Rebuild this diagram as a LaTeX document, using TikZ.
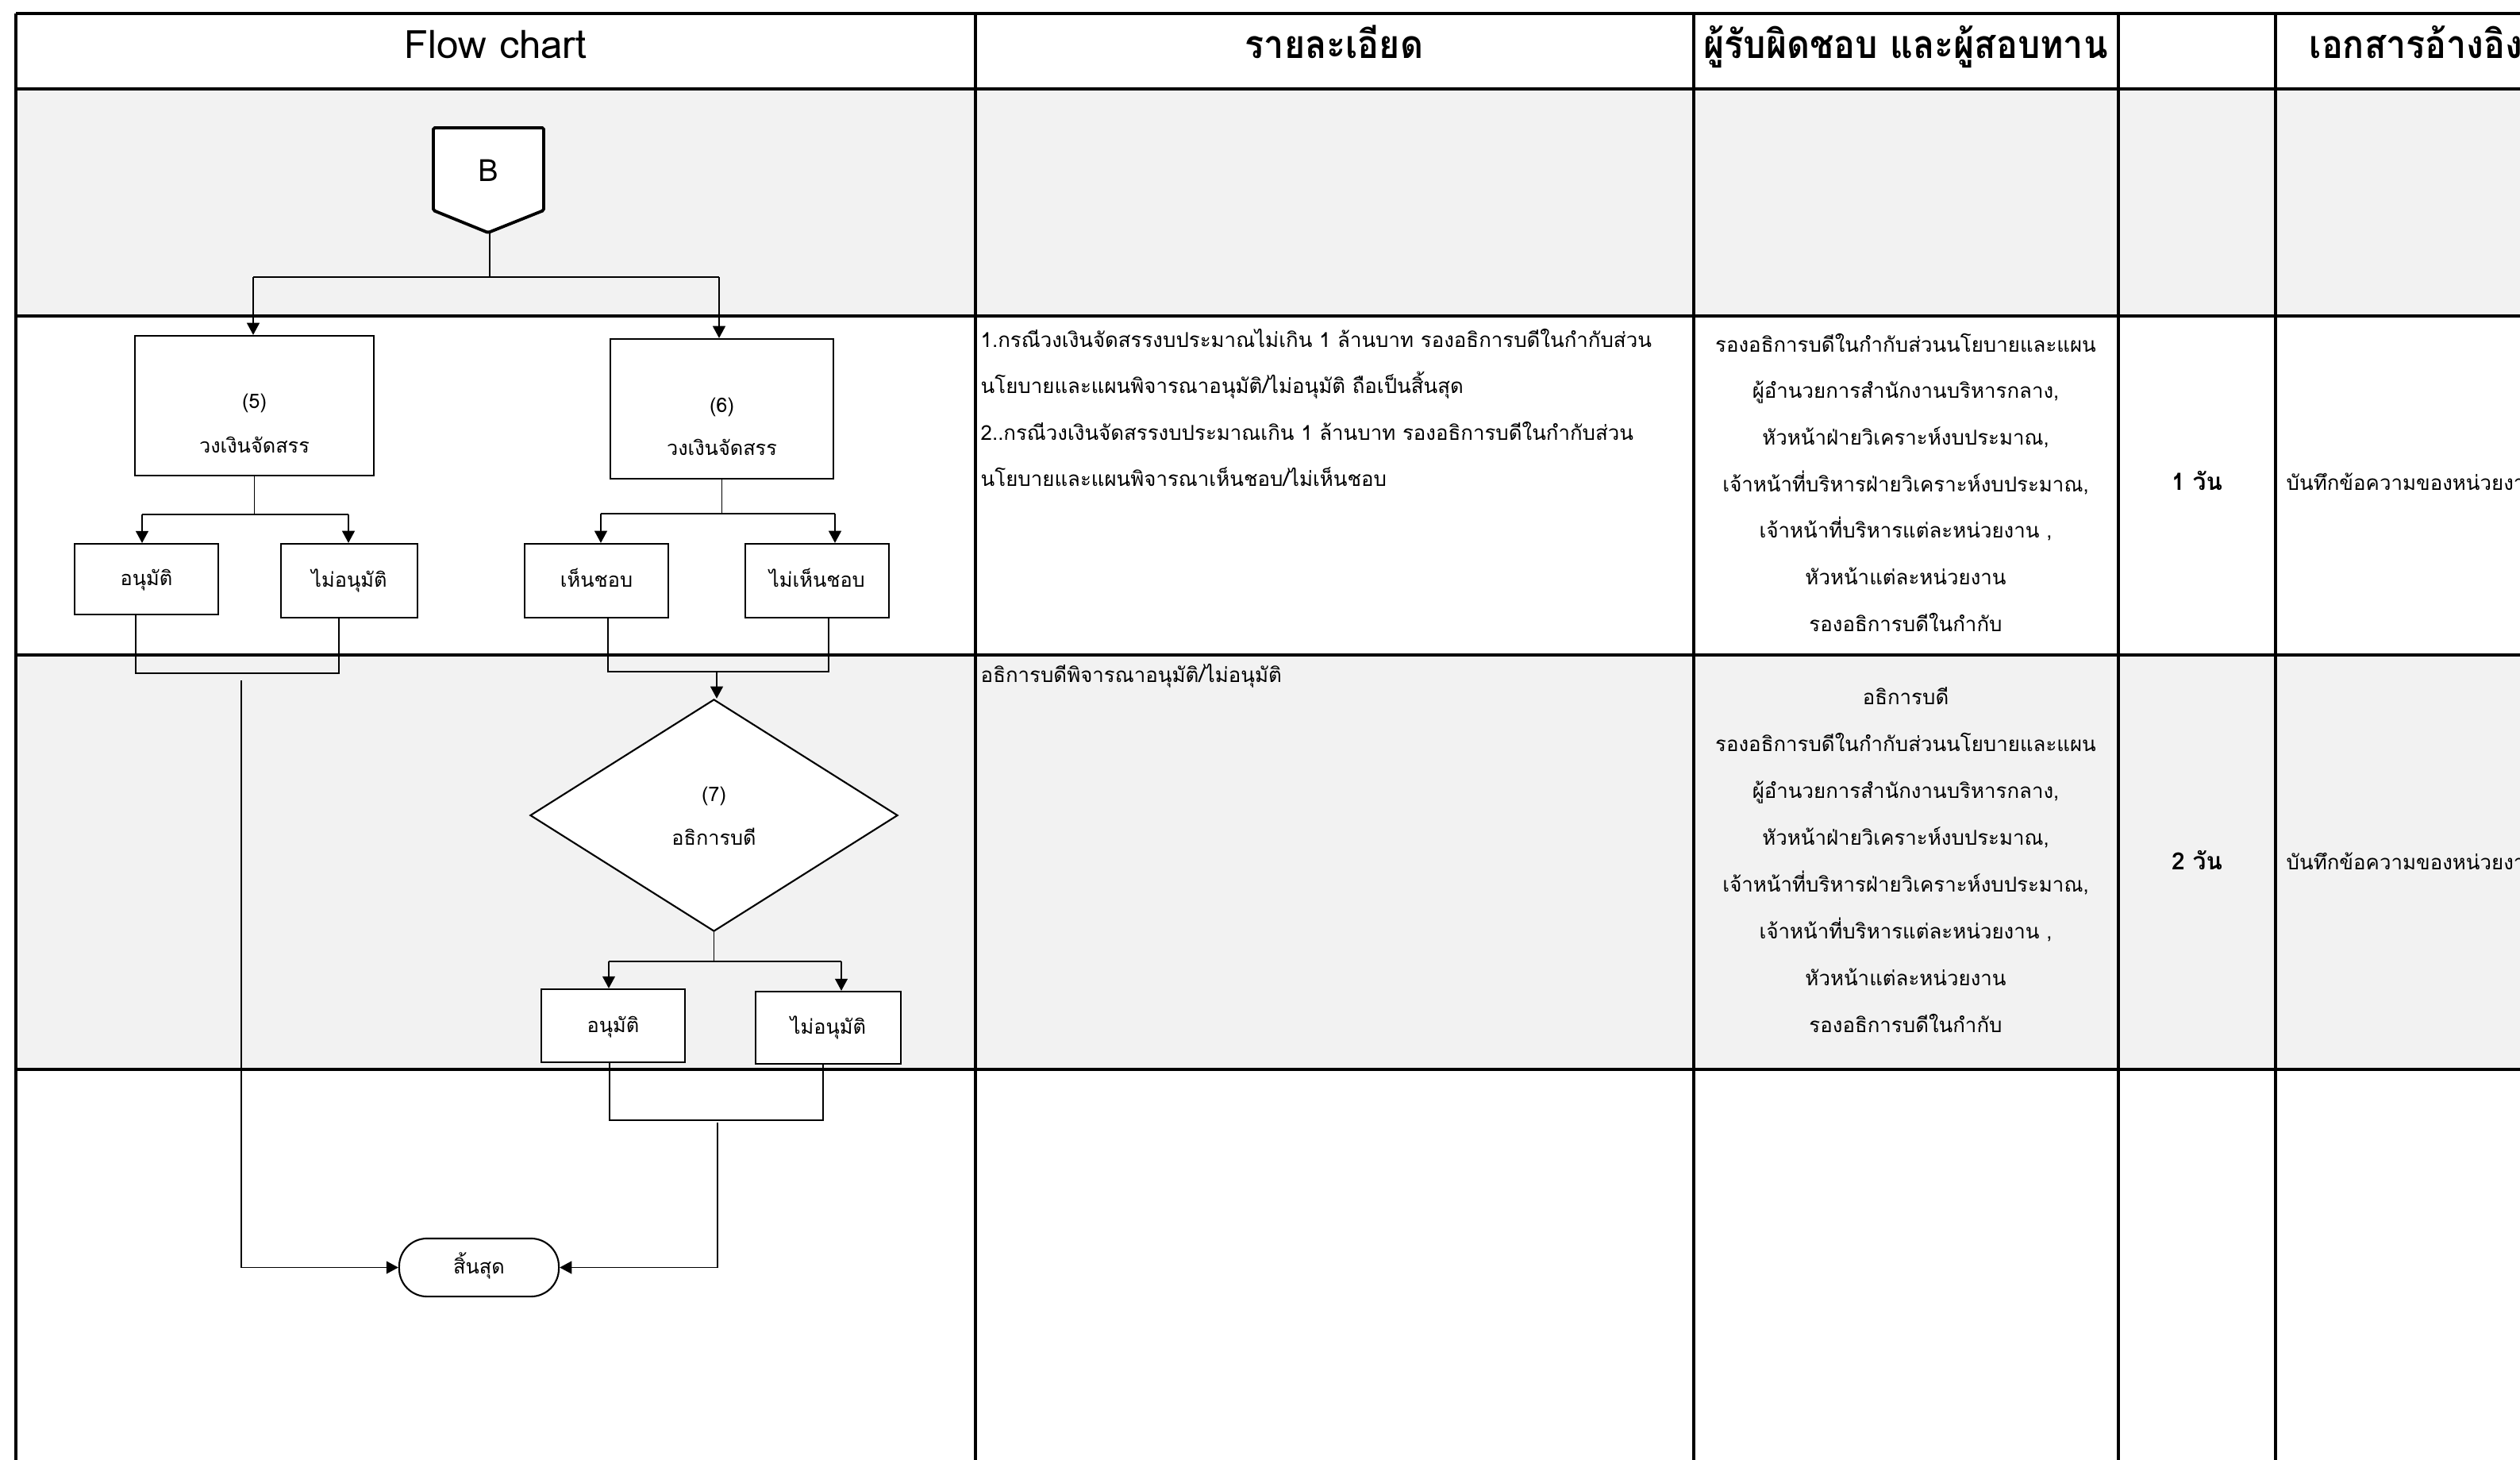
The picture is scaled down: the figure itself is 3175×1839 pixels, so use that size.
\documentclass[tikz,border=0pt]{standalone}
\usepackage{fontspec}
\setmainfont{Loma}[Script=Thai]
\newfontfamily\headfont{Loma}[Script=Thai,FakeStretch=0.91]
\usetikzlibrary{arrows.meta,shapes.geometric,calc}
\definecolor{rowgrey}{HTML}{F2F2F2}
\begin{document}
\begin{tikzpicture}[x=0.01cm,y=-0.01cm,
  hgrid/.style={line width=1.4pt},
  vgrid/.style={line width=1.1pt},
  box/.style={draw,line width=0.6pt,fill=white,inner sep=0pt,
    text height=5pt,text depth=0.2pt,font=\fontsize{7.2}{8}\selectfont},
  flow/.style={line width=0.5pt},
  arr/.style={flow,-{Triangle[length=4.3pt,width=4.5pt]}},
  lbl/.style={inner sep=0pt,anchor=base,font=\fontsize{7.2}{8}\selectfont},
  head/.style={inner sep=0pt,anchor=base,font=\headfont\fontsize{14}{16}\selectfont\bfseries},
  body/.style={inner sep=0pt,anchor=base west,font=\fontsize{7.35}{8}\selectfont},
  resp/.style={inner sep=0pt,anchor=base,font=\fontsize{7.35}{8}\selectfont},
  days/.style={inner sep=0pt,anchor=base,font=\fontsize{8.5}{9}\selectfont\bfseries},
]
\useasboundingbox (0,0) rectangle (3175,1839);
\clip (0,0) rectangle (3175,1839);
\fill[white] (0,0) rectangle (3175,1839);
% shaded rows
\fill[rowgrey] (20,112) rectangle (3175,398);
\fill[rowgrey] (20,825) rectangle (3175,1347);
% table rules
\foreach \y in {17,112,398,825,1347} \draw[hgrid] (20,\y) -- (3175,\y);
\foreach \x in {20,1229,2134,2669,2867} \draw[vgrid] (\x,17) -- (\x,1839);

% column headings
\node[inner sep=0pt,anchor=base,font=\fontsize{14}{16}\selectfont] (hflow) at (624,73) {Flow chart};
\node[head] (hdesc) at (1681,73) {รายละเอียด};
\node[head] (hresp) at (2401,73) {ผู้รับผิดชอบ และผู้สอบทาน};
\node[head,anchor=base west] (hdoc) at (2909,73) {เอกสารอ้างอิง};

% description column
\node[body] (d1) at (1235,437) {1.กรณีวงเงินจัดสรรงบประมาณไม่เกิน 1 ล้านบาท รองอธิการบดีในกำกับส่วน};
\node[body] (d2) at (1235,495.5) {นโยบายและแผนพิจารณาอนุมัติ/ไม่อนุมัติ ถือเป็นสิ้นสุด};
\node[body] (d3) at (1235,554) {2..กรณีวงเงินจัดสรรงบประมาณเกิน 1 ล้านบาท รองอธิการบดีในกำกับส่วน};
\node[body] (d4) at (1235,612.5) {นโยบายและแผนพิจารณาเห็นชอบ/ไม่เห็นชอบ};
\node[body] (d5) at (1235,859) {อธิการบดีพิจารณาอนุมัติ/ไม่อนุมัติ};

% responsible persons
\node[resp] (r1) at (2401,443) {รองอธิการบดีในกำกับส่วนนโยบายและแผน};
\node[resp] (r2) at (2401,501.7) {ผู้อำนวยการสำนักงานบริหารกลาง,};
\node[resp] (r3) at (2401,560.4) {หัวหน้าฝ่ายวิเคราะห์งบประมาณ,};
\node[resp] (r4) at (2401,619.1) {เจ้าหน้าที่บริหารฝ่ายวิเคราะห์งบประมาณ,};
\node[resp] (r5) at (2401,677.8) {เจ้าหน้าที่บริหารแต่ละหน่วยงาน ,};
\node[resp] (r6) at (2401,736.5) {หัวหน้าแต่ละหน่วยงาน};
\node[resp] (r7) at (2401,795.2) {รองอธิการบดีในกำกับ};

\node[resp] (s1) at (2401,887) {อธิการบดี};
\node[resp] (s2) at (2401,946) {รองอธิการบดีในกำกับส่วนนโยบายและแผน};
\node[resp] (s3) at (2401,1005) {ผู้อำนวยการสำนักงานบริหารกลาง,};
\node[resp] (s4) at (2401,1064) {หัวหน้าฝ่ายวิเคราะห์งบประมาณ,};
\node[resp] (s5) at (2401,1123) {เจ้าหน้าที่บริหารฝ่ายวิเคราะห์งบประมาณ,};
\node[resp] (s6) at (2401,1182) {เจ้าหน้าที่บริหารแต่ละหน่วยงาน ,};
\node[resp] (s7) at (2401,1241) {หัวหน้าแต่ละหน่วยงาน};
\node[resp] (s8) at (2401,1300) {รองอธิการบดีในกำกับ};

% duration and documents
\node[days] (t1) at (2768,617) {1 วัน};
\node[days] (t2) at (2768,1095) {2 วัน};
\node[body] (doc1) at (2880,617) {บันทึกข้อความของหน่วยงาน};
\node[body] (doc2) at (2880,1095) {บันทึกข้อความของหน่วยงาน};

% ---- flow chart ----
% off-page connector B
\draw[line width=1.1pt,fill=white,rounded corners=0.5pt]
  (546,161) -- (685,161) -- (685,265) -- (615,293) -- (546,265) -- cycle;
\node[inner sep=0pt,anchor=base,font=\fontsize{11}{12}\selectfont] (B) at (615,228) {B};
\coordinate (Btip) at (617,293);
\coordinate (Bj) at (617,349);
\coordinate (BL) at (319,349);
\coordinate (BR) at (906,349);

% step 5 and 6 boxes
\node[box,minimum width=85.6pt,minimum height=50.1pt] (b5) at (320.5,511) {};
\node[lbl] (b5n) at (320.5,514) {(5)};
\node[lbl] (b5t) at (320.5,570) {วงเงินจัดสรร};
\node[box,minimum width=80pt,minimum height=50.1pt] (b6) at (909.5,515) {};
\node[lbl] (b6n) at (909.5,519) {(6)};
\node[lbl] (b6t) at (909.5,573) {วงเงินจัดสรร};

\node[box,minimum width=51.5pt,minimum height=25.3pt] (b5a) at (184.5,729.5) {อนุมัติ};
\node[box,minimum width=48.9pt,minimum height=26.5pt] (b5b) at (440,731.5) {ไม่อนุมัติ};
\node[box,minimum width=51.5pt,minimum height=26.5pt] (b6a) at (751.5,731.5) {เห็นชอบ};
\node[box,minimum width=51.5pt,minimum height=26.5pt] (b6b) at (1029.5,731.5) {ไม่เห็นชอบ};

% step 7 decision
\node[diamond,draw,line width=0.6pt,fill=white,inner sep=0pt,
  minimum width=131.7pt,minimum height=83.1pt] (dia) at (899.5,1027) {};
\node[lbl] (dian) at (899.5,1009) {(7)};
\node[lbl] (diat) at (899.5,1064) {อธิการบดี};
\node[box,minimum width=51.5pt,minimum height=26.2pt] (b7a) at (772.5,1292) {อนุมัติ};
\node[box,minimum width=52.1pt,minimum height=25.9pt] (b7b) at (1043.5,1294.5) {ไม่อนุมัติ};

% terminator
\node[draw,line width=0.6pt,fill=white,rounded corners=10pt,inner sep=0pt,
  minimum width=57.2pt,minimum height=20.8pt,text height=5pt,text depth=0.2pt,
  font=\fontsize{7.2}{8}\selectfont] (endn) at (603.5,1596.5) {สิ้นสุด};

% connectors from B
\draw[flow] (Btip) -- (Bj);
\draw[flow] (BL) -- (BR);
\draw[arr] (BL) -- (BL |- b5.north);
\draw[arr] (BR) -- (BR |- b6.north);

% split below 5
\coordinate (j5L) at (179,648);
\coordinate (j5R) at (439,648);
\draw[flow] (b5.south) -- (b5.south |- j5L);
\draw[flow] (j5L) -- (j5R);
\draw[arr] (j5L) -- (j5L |- b5a.north);
\draw[arr] (j5R) -- (j5R |- b5b.north);

% split below 6
\coordinate (j6L) at (757,647);
\coordinate (j6R) at (1052,647);
\draw[flow] (b6.south) -- (b6.south |- j6L);
\draw[flow] (j6L) -- (j6R);
\draw[arr] (j6L) -- (j6L |- b6a.north);
\draw[arr] (j6R) -- (j6R |- b6b.north);

% merge of step 5 outcomes, straight to the end
\coordinate (m5L) at (171,848);
\coordinate (m5R) at (427,848);
\draw[flow] (b5a.south -| m5L) -- (m5L) -- (m5R) -- (b5b.south -| m5R);
\coordinate (L1) at (304,857);
\draw[arr] (L1) |- (endn.west);

% merge of step 6 outcomes into the decision
\coordinate (m6L) at (766,846);
\coordinate (m6R) at (1044,846);
\coordinate (m6M) at (903,846);
\draw[flow] (b6a.south -| m6L) -- (m6L) -- (m6R) -- (b6b.south -| m6R);
\draw[arr] (m6M) -- (m6M |- dia.north);

% split below 7
\coordinate (j7L) at (767,1211);
\coordinate (j7R) at (1060,1211);
\draw[flow] (dia.south) -- (dia.south |- j7L);
\draw[flow] (j7L) -- (j7R);
\draw[arr] (j7L) -- (j7L |- b7a.north);
\draw[arr] (j7R) -- (j7R |- b7b.north);

% merge of step 7 outcomes to the end
\coordinate (m7L) at (768,1411);
\coordinate (m7R) at (1037,1411);
\coordinate (m7M) at (904,1414);
\draw[flow] (b7a.south -| m7L) -- (m7L) -- (m7R) -- (b7b.south -| m7R);
\draw[arr] (m7M) |- (endn.east);
\end{tikzpicture}
\end{document}
